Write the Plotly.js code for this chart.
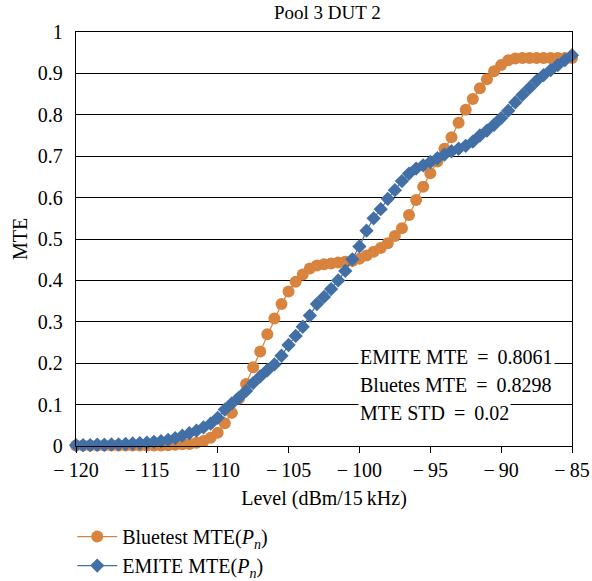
<!DOCTYPE html>
<html>
<head>
<meta charset="utf-8">
<script src="https://cdn.plot.ly/plotly-3.0.1.min.js"></script>
<style>html,body{margin:0;padding:0;background:#fff;}#chart{width:592px;height:581px;}</style>
</head>
<body>
<div id="chart"></div>
<script>
var levels = [-120,-119.5,-119,-118.5,-118,-117.5,-117,-116.5,-116,-115.5,-115,-114.5,-114,-113.5,-113,-112.5,-112,-111.5,-111,-110.5,-110,-109.5,-109,-108.5,-108,-107.5,-107,-106.5,-106,-105.5,-105,-104.5,-104,-103.5,-103,-102.5,-102,-101.5,-101,-100.5,-100,-99.5,-99,-98.5,-98,-97.5,-97,-96.5,-96,-95.5,-95,-94.5,-94,-93.5,-93,-92.5,-92,-91.5,-91,-90.5,-90,-89.5,-89,-88.5,-88,-87.5,-87,-86.5,-86,-85.5,-85];
var bluetestMTE = [0.001,0.001,0.001,0.001,0.001,0.001,0.001,0.001,0.001,0.001,0.001,0.001,0.001,0.002,0.003,0.004,0.005,0.008,0.012,0.02,0.032,0.055,0.08,0.115,0.15,0.19,0.228,0.27,0.308,0.343,0.373,0.397,0.414,0.429,0.436,0.439,0.441,0.443,0.445,0.447,0.452,0.46,0.469,0.478,0.49,0.507,0.526,0.558,0.594,0.626,0.659,0.687,0.718,0.746,0.781,0.812,0.838,0.864,0.886,0.905,0.92,0.932,0.936,0.937,0.937,0.937,0.937,0.937,0.937,0.937,0.937];
var emiteMTE = [0.002,0.002,0.002,0.003,0.003,0.004,0.004,0.005,0.006,0.007,0.008,0.010,0.012,0.015,0.019,0.025,0.031,0.037,0.045,0.054,0.068,0.088,0.103,0.117,0.133,0.152,0.168,0.183,0.197,0.218,0.244,0.266,0.288,0.315,0.343,0.36,0.379,0.4,0.423,0.451,0.482,0.52,0.55,0.572,0.597,0.618,0.64,0.658,0.67,0.678,0.686,0.695,0.704,0.712,0.718,0.725,0.735,0.75,0.762,0.776,0.792,0.81,0.83,0.848,0.865,0.882,0.896,0.908,0.92,0.932,0.944];
var xTickVals = [-120,-115,-110,-105,-100,-95,-90,-85];
var xTickText = ['\u2212\u2009120','\u2212\u2009115','\u2212\u2009110','\u2212\u2009105','\u2212\u2009100','\u2212\u200995','\u2212\u200990','\u2212\u200985'];
var yTickVals = [0,0.1,0.2,0.3,0.4,0.5,0.6,0.7,0.8,0.9,1];
var yTickText = ['0','0.1','0.2','0.3','0.4','0.5','0.6','0.7','0.8','0.9','1'];
var statLines = ['EMITE MTE \u2009=\u2009 0.8061','Bluetes MTE \u2009=\u2009 0.8298','MTE STD \u2009=\u2009 0.02'];
var statY = [0.215, 0.148, 0.08];

var FONT = 'Liberation Serif, Times New Roman, serif';
var traces = [
  {x: levels, y: bluetestMTE, type: 'scatter', mode: 'lines+markers', cliponaxis: false,
   name: 'Bluetest MTE(<i>P</i><sub><i>n</i></sub>)',
   line: {color: '#D8833E', width: 1.2},
   marker: {symbol: 'circle', size: 12, color: '#D8833E'}},
  {x: levels, y: emiteMTE, type: 'scatter', mode: 'lines+markers', cliponaxis: false,
   name: 'EMITE MTE(<i>P</i><sub><i>n</i></sub>)',
   line: {color: '#426FA6', width: 1.2},
   marker: {symbol: 'diamond', size: 11, color: '#426FA6'}}
];
var annotations = statLines.map(function(t, i){
  return {x: -100.1, y: statY[i], xref: 'x', yref: 'y', text: t, showarrow: false,
    xanchor: 'left', yanchor: 'middle', bgcolor: '#ffffff', borderpad: 1,
    font: {family: FONT, size: 20, color: '#000'}};
});
annotations.push({text: 'MTE', xref: 'paper', yref: 'paper', x: -0.113, y: 0.5, textangle: -90,
  showarrow: false, xanchor: 'center', yanchor: 'middle', font: {family: FONT, size: 20, color: '#000'}});
var layout = {
  width: 592, height: 581,
  margin: {l: 76, r: 20, t: 32, b: 135, autoexpand: false},
  paper_bgcolor: '#fff', plot_bgcolor: '#fff',
  font: {family: FONT, size: 20, color: '#000'},
  title: {text: 'Pool 3 DUT 2', font: {family: FONT, size: 19, color: '#000'}, x: 0.553, xref: 'container', y: 0.99, yanchor: 'top'},
  xaxis: {range: [-120, -85], tickvals: xTickVals, ticktext: xTickText, tickangle: 0, automargin: false,
    showgrid: false, zeroline: false, showline: true, linecolor: '#000', linewidth: 1.2, mirror: true,
    ticks: 'outside', ticklen: 6, tickcolor: '#000', tickfont: {family: FONT, size: 20},
    title: {text: 'Level (dBm/15\u2009kHz)', font: {family: FONT, size: 20}, standoff: 10}},
  yaxis: {range: [0, 1], tickvals: yTickVals, ticktext: yTickText, automargin: false,
    showgrid: true, gridcolor: '#000', gridwidth: 1, zeroline: false,
    showline: true, linecolor: '#000', linewidth: 1.2, mirror: true,
    ticks: 'outside', ticklen: 8, tickcolor: 'rgba(0,0,0,0)', tickfont: {family: FONT, size: 20}},
  legend: {x: 0.122, y: 0.11, xref: 'container', yref: 'container', xanchor: 'left', yanchor: 'top',
    orientation: 'v', font: {family: FONT, size: 20}, bgcolor: 'rgba(0,0,0,0)', tracegroupgap: 0, itemwidth: 40},
  showlegend: true,
  annotations: annotations
};
Plotly.newPlot('chart', traces, layout, {displayModeBar: false, staticPlot: true});
</script>
</body>
</html>
